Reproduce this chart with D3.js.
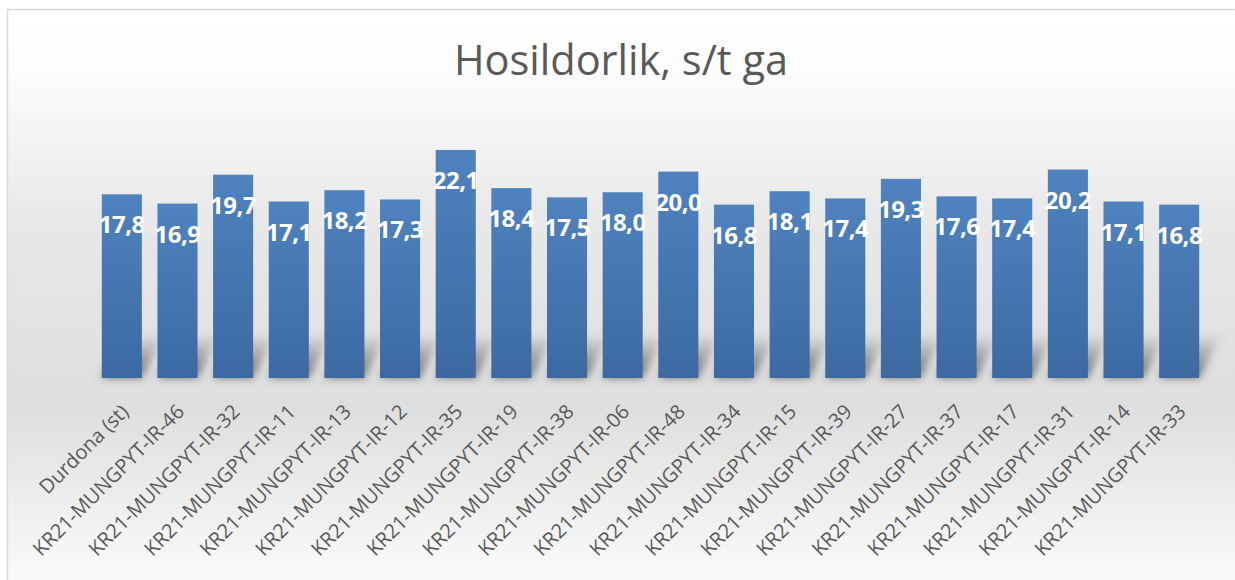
<!DOCTYPE html>
<html>
<head>
<meta charset="utf-8">
<script src="https://cdn.jsdelivr.net/npm/d3@7"></script>
<style>
  html, body { margin: 0; padding: 0; background: #fff; }
  #root { width: 1235px; height: 580px; }
</style>
</head>
<body>
<div id="root"></div>
<script>
var categories = ["Durdona (st)", "KR21-MUNGPYT-IR-46", "KR21-MUNGPYT-IR-32", "KR21-MUNGPYT-IR-11",
    "KR21-MUNGPYT-IR-13", "KR21-MUNGPYT-IR-12", "KR21-MUNGPYT-IR-35", "KR21-MUNGPYT-IR-19",
    "KR21-MUNGPYT-IR-38", "KR21-MUNGPYT-IR-06", "KR21-MUNGPYT-IR-48", "KR21-MUNGPYT-IR-34",
    "KR21-MUNGPYT-IR-15", "KR21-MUNGPYT-IR-39", "KR21-MUNGPYT-IR-27", "KR21-MUNGPYT-IR-37",
    "KR21-MUNGPYT-IR-17", "KR21-MUNGPYT-IR-31", "KR21-MUNGPYT-IR-14", "KR21-MUNGPYT-IR-33"];
var values = [17.8, 16.9, 19.7, 17.1, 18.2, 17.3, 22.1, 18.4, 17.5, 18.0,
    20.0, 16.8, 18.1, 17.4, 19.3, 17.6, 17.4, 20.2, 17.1, 16.8];
var title = "Hosildorlik, s/t ga";

var width = 1235, height = 580;
var data = categories.map(function(c, i) { return {cat: c, val: values[i]}; });

var svg = d3.select("#root").append("svg")
    .attr("width", width)
    .attr("height", height);

var defs = svg.append("defs");

var bg = defs.append("linearGradient").attr("id", "bg")
    .attr("x1", 0).attr("y1", 0).attr("x2", 0).attr("y2", 1);
bg.append("stop").attr("offset", "0%").attr("stop-color", "#ffffff");
bg.append("stop").attr("offset", "10%").attr("stop-color", "#fdfdfd");
bg.append("stop").attr("offset", "34%").attr("stop-color", "#e9e9e9");
bg.append("stop").attr("offset", "66%").attr("stop-color", "#dedede");
bg.append("stop").attr("offset", "100%").attr("stop-color", "#ffffff");

var barGrad = defs.append("linearGradient").attr("id", "barGrad")
    .attr("x1", 0).attr("y1", 0).attr("x2", 0).attr("y2", 1);
barGrad.append("stop").attr("offset", "0%").attr("stop-color", "#4f82bf");
barGrad.append("stop").attr("offset", "100%").attr("stop-color", "#3c69a2");

var shGrad = defs.append("linearGradient").attr("id", "shGrad")
    .attr("x1", 0).attr("y1", 1).attr("x2", 0).attr("y2", 0);
shGrad.append("stop").attr("offset", "0%").attr("stop-color", "#555").attr("stop-opacity", 0.85);
shGrad.append("stop").attr("offset", "100%").attr("stop-color", "#555").attr("stop-opacity", 0);

defs.append("filter").attr("id", "blur")
    .attr("x", "-50%").attr("y", "-50%").attr("width", "200%").attr("height", "200%")
    .append("feGaussianBlur").attr("stdDeviation", 4);

// chart area
svg.append("rect")
    .attr("x", 7.5).attr("y", 9.5)
    .attr("width", width + 20).attr("height", height + 20)
    .attr("fill", "url(#bg)")
    .attr("stroke", "#d9d9d9")
    .attr("stroke-width", 1.5);

svg.append("text")
    .attr("x", 621).attr("y", 75)
    .attr("text-anchor", "middle")
    .attr("font-family", "Open Sans")
    .attr("font-size", 41.5)
    .attr("fill", "#595959")
    .text(title);

var x = d3.scaleBand()
    .domain(categories)
    .range([94, 1207])
    .paddingInner(0.28)
    .paddingOuter(0.14);

var y = d3.scaleLinear()
    .domain([0, 25])
    .range([378, 120]);

var base = y(0);

// floor shadows
var shadowH = 44, shadowDx = 22;
svg.append("g")
    .attr("class", "shadows")
    .attr("filter", "url(#blur)")
    .selectAll("path")
    .data(data)
    .enter()
    .append("path")
    .attr("fill", "url(#shGrad)")
    .attr("d", function(d) {
        var x0 = x(d.cat), x1 = x0 + x.bandwidth();
        return "M" + x0 + "," + base + "L" + x1 + "," + base +
            "L" + (x1 + shadowDx) + "," + (base - shadowH) +
            "L" + (x0 + shadowDx) + "," + (base - shadowH) + "Z";
    });

svg.append("g")
    .attr("class", "bars")
    .selectAll("rect")
    .data(data)
    .enter()
    .append("rect")
    .attr("x", function(d) { return x(d.cat); })
    .attr("y", function(d) { return y(d.val); })
    .attr("width", x.bandwidth())
    .attr("height", function(d) { return base - y(d.val); })
    .attr("fill", "url(#barGrad)");

var fmt = d3.format(".1f");
svg.append("g")
    .attr("class", "labels")
    .selectAll("text")
    .data(data)
    .enter()
    .append("text")
    .attr("x", function(d) { return x(d.cat) + x.bandwidth() / 2; })
    .attr("y", function(d) { return y(d.val) + 39; })
    .attr("text-anchor", "middle")
    .attr("font-family", "Open Sans")
    .attr("font-weight", "bold")
    .attr("font-size", 24)
    .attr("letter-spacing", -0.5)
    .attr("fill", "#ffffff")
    .text(function(d) { return fmt(d.val).replace(".", ","); });

// category axis
var axis = svg.append("g")
    .attr("transform", "translate(0," + base + ")")
    .call(d3.axisBottom(x).tickSize(0).tickPadding(0));
axis.select(".domain").remove();
axis.selectAll("text")
    .attr("font-family", "Open Sans")
    .attr("font-size", 20)
    .attr("fill", "#595959")
    .attr("text-anchor", "end")
    .attr("dy", 0)
    .attr("y", 0)
    .attr("transform", "translate(8,35) rotate(-45)");
</script>
</body>
</html>
